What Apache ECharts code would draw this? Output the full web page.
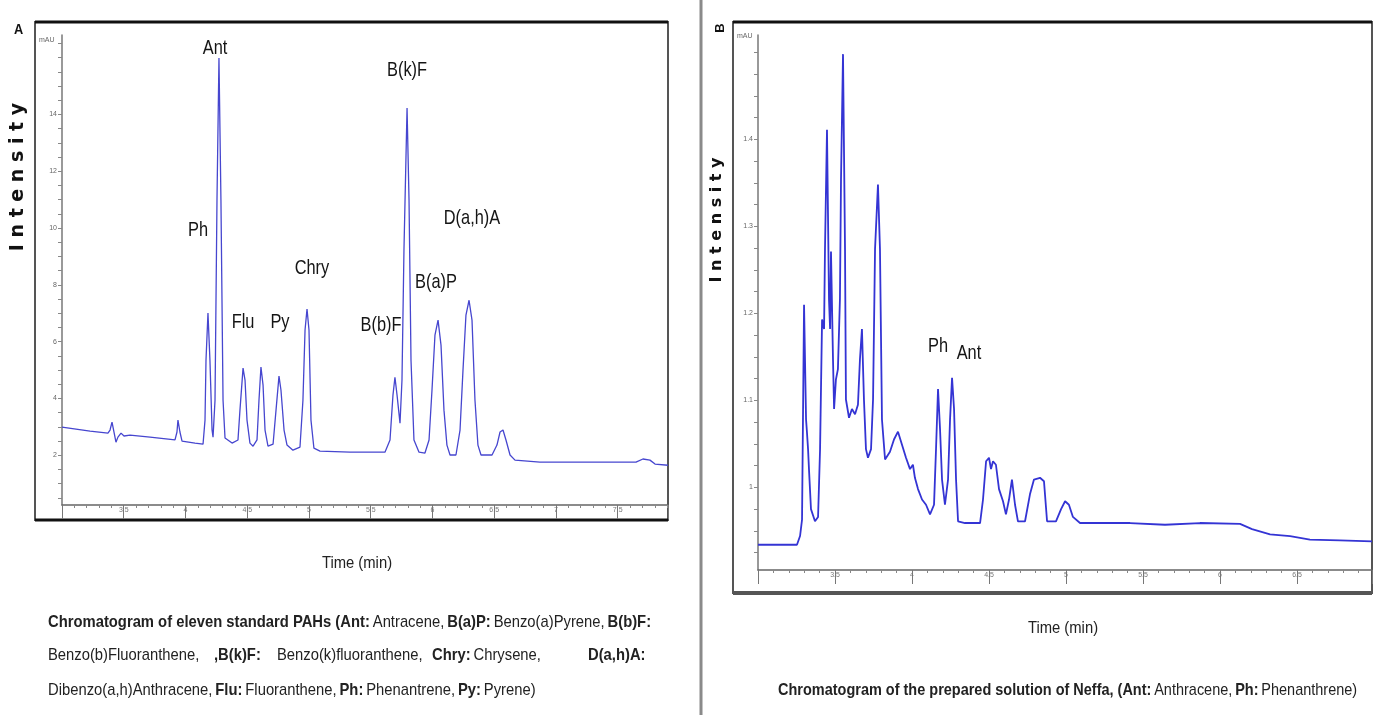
<!DOCTYPE html>
<html><head><meta charset="utf-8">
<script src="https://cdn.jsdelivr.net/npm/echarts@6/dist/echarts.min.js"></script>
<style>html,body{margin:0;padding:0;background:#fff}#c{width:1374px;height:715px}</style>
</head><body><div id="c"></div><script>
// ---------- Panel A: eleven standard PAHs ----------
const timeA = [3.000,3.227,3.372,3.389,3.405,3.421,3.437,3.453,3.478,3.502,3.551,3.713,3.915,3.931,3.939,3.955,3.972,4.077,4.142,4.158,4.166,4.182,4.198,4.215,4.223,4.239,4.255,4.271,4.287,4.304,4.320,4.377,4.425,4.441,4.466,4.482,4.498,4.522,4.547,4.579,4.595,4.611,4.628,4.644,4.668,4.709,4.733,4.757,4.773,4.798,4.822,4.870,4.927,4.951,4.968,4.984,5.000,5.016,5.040,5.089,5.332,5.615,5.656,5.680,5.696,5.713,5.737,5.753,5.769,5.794,5.810,5.826,5.850,5.891,5.939,5.972,5.996,6.020,6.045,6.069,6.093,6.117,6.142,6.190,6.223,6.247,6.271,6.296,6.320,6.344,6.368,6.393,6.482,6.522,6.547,6.571,6.595,6.628,6.668,6.870,7.356,7.648,7.704,7.761,7.802,7.907];
const intensityA = [2.99,2.85,2.78,2.89,3.17,2.82,2.46,2.64,2.78,2.68,2.71,2.64,2.54,2.82,3.24,2.82,2.50,2.43,2.39,3.24,5.35,7.01,5.35,2.89,2.64,3.94,10.99,15.99,10.99,3.94,2.61,2.43,2.54,3.59,5.07,4.65,3.24,2.43,2.32,2.54,3.94,5.11,4.47,2.89,2.32,2.39,3.59,4.79,4.30,2.89,2.36,2.18,2.29,3.94,6.41,7.15,6.41,3.24,2.25,2.15,2.11,2.11,2.54,4.12,4.75,4.12,3.13,4.65,9.23,14.23,10.99,5.35,2.54,2.11,2.08,2.54,4.30,6.23,6.76,5.88,3.59,2.36,2.01,2.01,2.89,5.00,6.94,7.46,6.76,3.94,2.36,2.01,2.01,2.36,2.82,2.89,2.54,2.01,1.83,1.76,1.76,1.76,1.87,1.83,1.69,1.65];
const peakNamesA = ['Ant','Ph','Flu','Py','Chry','B(b)F','B(k)F','B(a)P','D(a,h)A'];
const peakLabelTimeA = [4.239,4.101,4.466,4.765,5.024,5.583,5.794,6.028,6.320];
const peakLabelValueA = [16.34,9.93,6.69,6.69,8.59,6.58,15.56,8.10,10.35];
const yTicksA = [2,4,6,8,10,12,14];

// ---------- Panel B: prepared solution of Neffa ----------
const timeB = [3.000,3.253,3.273,3.286,3.292,3.299,3.312,3.318,3.325,3.331,3.344,3.370,3.390,3.403,3.416,3.429,3.435,3.448,3.461,3.468,3.474,3.487,3.494,3.506,3.519,3.532,3.539,3.552,3.565,3.571,3.591,3.610,3.630,3.649,3.662,3.675,3.688,3.701,3.714,3.734,3.747,3.760,3.779,3.792,3.805,3.825,3.857,3.883,3.909,3.935,3.961,3.987,4.006,4.019,4.039,4.065,4.091,4.117,4.143,4.156,4.169,4.182,4.195,4.214,4.234,4.247,4.260,4.273,4.286,4.299,4.344,4.442,4.461,4.481,4.500,4.513,4.526,4.545,4.565,4.591,4.610,4.630,4.649,4.669,4.688,4.734,4.766,4.792,4.831,4.857,4.877,4.935,4.968,4.994,5.019,5.045,5.091,5.416,5.643,5.870,6.130,6.208,6.325,6.455,6.584,6.779,6.987];
const intensityB = [0.934,0.934,0.944,0.963,1.078,1.210,1.078,1.063,1.044,1.021,0.975,0.961,0.966,1.044,1.193,1.182,1.274,1.411,1.216,1.182,1.271,1.147,1.090,1.124,1.136,1.216,1.354,1.498,1.274,1.101,1.080,1.090,1.084,1.095,1.147,1.182,1.101,1.044,1.034,1.044,1.101,1.274,1.348,1.274,1.078,1.032,1.041,1.055,1.064,1.049,1.034,1.021,1.026,1.011,0.998,0.986,0.980,0.969,0.980,1.044,1.113,1.067,1.009,0.980,1.009,1.078,1.126,1.090,1.009,0.961,0.959,0.959,0.986,1.030,1.034,1.021,1.030,1.026,0.998,0.984,0.969,0.986,1.009,0.980,0.961,0.961,0.992,1.009,1.011,1.007,0.961,0.961,0.975,0.984,0.980,0.966,0.959,0.959,0.957,0.959,0.958,0.952,0.946,0.944,0.940,0.939,0.938];
const peakNamesB = ['Ph','Ant'];
const peakLabelTimeB = [4.169,4.370];
const peakLabelValueB = [1.162,1.154];
const yTicksB = [1.0,1.1,1.2,1.3,1.4];

// ---------- build ----------
const SANS = "'Liberation Sans',Arial,sans-serif";
const SQ = 0.87; // horizontal condensing of the narrow caption font
function range(a,b,s){const r=[];for(let v=a;v<=b+1e-9;v+=s)r.push(+v.toFixed(4));return r;}
function xAxisCfg(gi,max){
  return {gridIndex:gi,type:'value',min:3,max:max,interval:0.5,
    axisLine:{show:true,lineStyle:{color:'#666',width:1.5}},
    axisTick:{show:true,inside:false,length:14,lineStyle:{color:'#777'}},
    minorTick:{show:true,splitNumber:5,length:3,lineStyle:{color:'#888'}},
    splitLine:{show:false},
    axisLabel:{show:true,fontSize:7,color:'#777',margin:2,showMaxLabel:false,showMinLabel:false,
      formatter:v=>{const r=Math.round(v*2)/2; return (Math.abs(v-r)>1e-6||Math.abs(v-3)<1e-6)?'':String(r);}}};
}
function yAxisCfg(gi,min,max,labels,tickStep,fmt){
  return {gridIndex:gi,type:'value',min:min,max:max,
    axisLine:{show:true,lineStyle:{color:'#777',width:1.5}},
    axisTick:{show:true,length:4,customValues:range(Math.ceil(min/tickStep)*tickStep,max,tickStep),lineStyle:{color:'#888'}},
    axisLabel:{show:true,fontSize:7,color:'#666',margin:5,customValues:labels,formatter:fmt},
    splitLine:{show:false}};
}
function lineSeries(xi,t,v,color,w){
  return {type:'line',xAxisIndex:xi,yAxisIndex:xi,data:t.map((x,i)=>[x,v[i]]),showSymbol:false,symbol:'none',
    lineStyle:{color:color,width:w},smooth:false,silent:true};
}

const chart = echarts.init(document.getElementById('c'),null,{renderer:'canvas'});
chart.setOption({
  animation:false,
  backgroundColor:'#fff',
  grid:[{left:62,top:35,width:606,bottom:210},{left:758,top:35,width:614,bottom:145}],
  xAxis:[xAxisCfg(0,7.907),xAxisCfg(1,6.987)],
  yAxis:[yAxisCfg(0,0.25,16.8,yTicksA,0.5,v=>String(v)),
         yAxisCfg(1,0.905,1.52,yTicksB,0.025,v=>(Math.abs(v-1)<1e-6?'1':v.toFixed(1)))],
  series:[lineSeries(0,timeA,intensityA,'#4646cf',1.3),
          lineSeries(1,timeB,intensityB,'#3434d4',1.8)]
});

const rich = {b:{fontFamily:SANS,fontWeight:'bold',fontSize:17,color:'#111'},n:{fontFamily:SANS,fontSize:17,color:'#1e1e1e'}};
function seg(x,y,text,sq){return {type:'text',x:x,y:y,scaleX:sq||SQ,style:{text:text,rich:rich,fill:'#222',verticalAlign:'middle'}};}
function peakLabels(gi,names,t,v){
  return names.map((n,i)=>{const p=chart.convertToPixel({gridIndex:gi},[t[i],v[i]]);
    return {type:'text',x:p[0],y:p[1],scaleX:0.78,style:{text:n,font:"21px "+SANS,fill:'#151515',align:'center',verticalAlign:'middle'}};});
}

const graphics = [
  // frames
  {type:'rect',shape:{x:35,y:22,width:633,height:498},style:{fill:'none',stroke:'#555',lineWidth:2},z:-1},
  {type:'line',shape:{x1:35,y1:22,x2:668,y2:22},style:{stroke:'#111',lineWidth:3}},
  {type:'line',shape:{x1:35,y1:520,x2:668,y2:520},style:{stroke:'#111',lineWidth:3}},
  {type:'rect',shape:{x:733,y:22,width:639,height:571},style:{fill:'none',stroke:'#555',lineWidth:2},z:-1},
  {type:'line',shape:{x1:733,y1:22,x2:1372,y2:22},style:{stroke:'#111',lineWidth:3}},
  {type:'line',shape:{x1:733,y1:593,x2:1372,y2:593},style:{stroke:'#555',lineWidth:4}},
  // separator
  {type:'line',shape:{x1:701,y1:0,x2:701,y2:715},style:{stroke:'#8a8a8a',lineWidth:3}},
  // panel letters
  {type:'text',x:14,y:22,scaleX:0.85,style:{text:'A',font:"bold 15px "+SANS,fill:'#111'}},
  {type:'text',x:720,y:28,rotation:Math.PI/2,style:{text:'B',font:"bold 13px "+SANS,fill:'#111',align:'center',verticalAlign:'middle'}},
  // unit labels
  {type:'text',x:39,y:37,style:{text:'mAU',font:"7px "+SANS,fill:'#666'}},
  {type:'text',x:737,y:33,style:{text:'mAU',font:"7px "+SANS,fill:'#666'}},
  // intensity titles
  {type:'text',x:18,y:177,rotation:Math.PI/2,style:{text:'I n t e n s i t y',font:"bold 19px 'DejaVu Sans',sans-serif",fill:'#111',align:'center',verticalAlign:'middle'}},
  {type:'text',x:717,y:220,rotation:Math.PI/2,style:{text:'I n t e n s i t y',font:"bold 16px 'DejaVu Sans',sans-serif",fill:'#111',align:'center',verticalAlign:'middle'}},
  // time titles
  {type:'text',x:357,y:563,scaleX:SQ,style:{text:'Time (min)',font:"17px "+SANS,fill:'#222',align:'center',verticalAlign:'middle'}},
  {type:'text',x:1063,y:628,scaleX:SQ,style:{text:'Time (min)',font:"17px "+SANS,fill:'#222',align:'center',verticalAlign:'middle'}},
  // caption A
  seg(48,622,'{b|Chromatogram of eleven standard PAHs (Ant:} {n|Antracene,} {b|B(a)P:} {n|Benzo(a)Pyrene,} {b|B(b)F:}'),
  seg(48,655,'{n|Benzo(b)Fluoranthene,}'),
  seg(214,655,'{b|,B(k)F:}'),
  seg(277,655,'{n|Benzo(k)fluoranthene,}'),
  seg(432,655,'{b|Chry:} {n|Chrysene,}'),
  seg(588,655,'{b|D(a,h)A:}'),
  seg(48,690,'{n|Dibenzo(a,h)Anthracene,} {b|Flu:} {n|Fluoranthene,} {b|Ph:} {n|Phenantrene,} {b|Py:} {n|Pyrene)}'),
  // caption B
  seg(778,690,'{b|Chromatogram of the prepared solution of Neffa, (Ant:} {n|Anthracene,} {b|Ph:} {n|Phenanthrene)}',0.852)
].concat(peakLabels(0,peakNamesA,peakLabelTimeA,peakLabelValueA))
 .concat(peakLabels(1,peakNamesB,peakLabelTimeB,peakLabelValueB));

chart.setOption({graphic:graphics});
</script></body></html>
